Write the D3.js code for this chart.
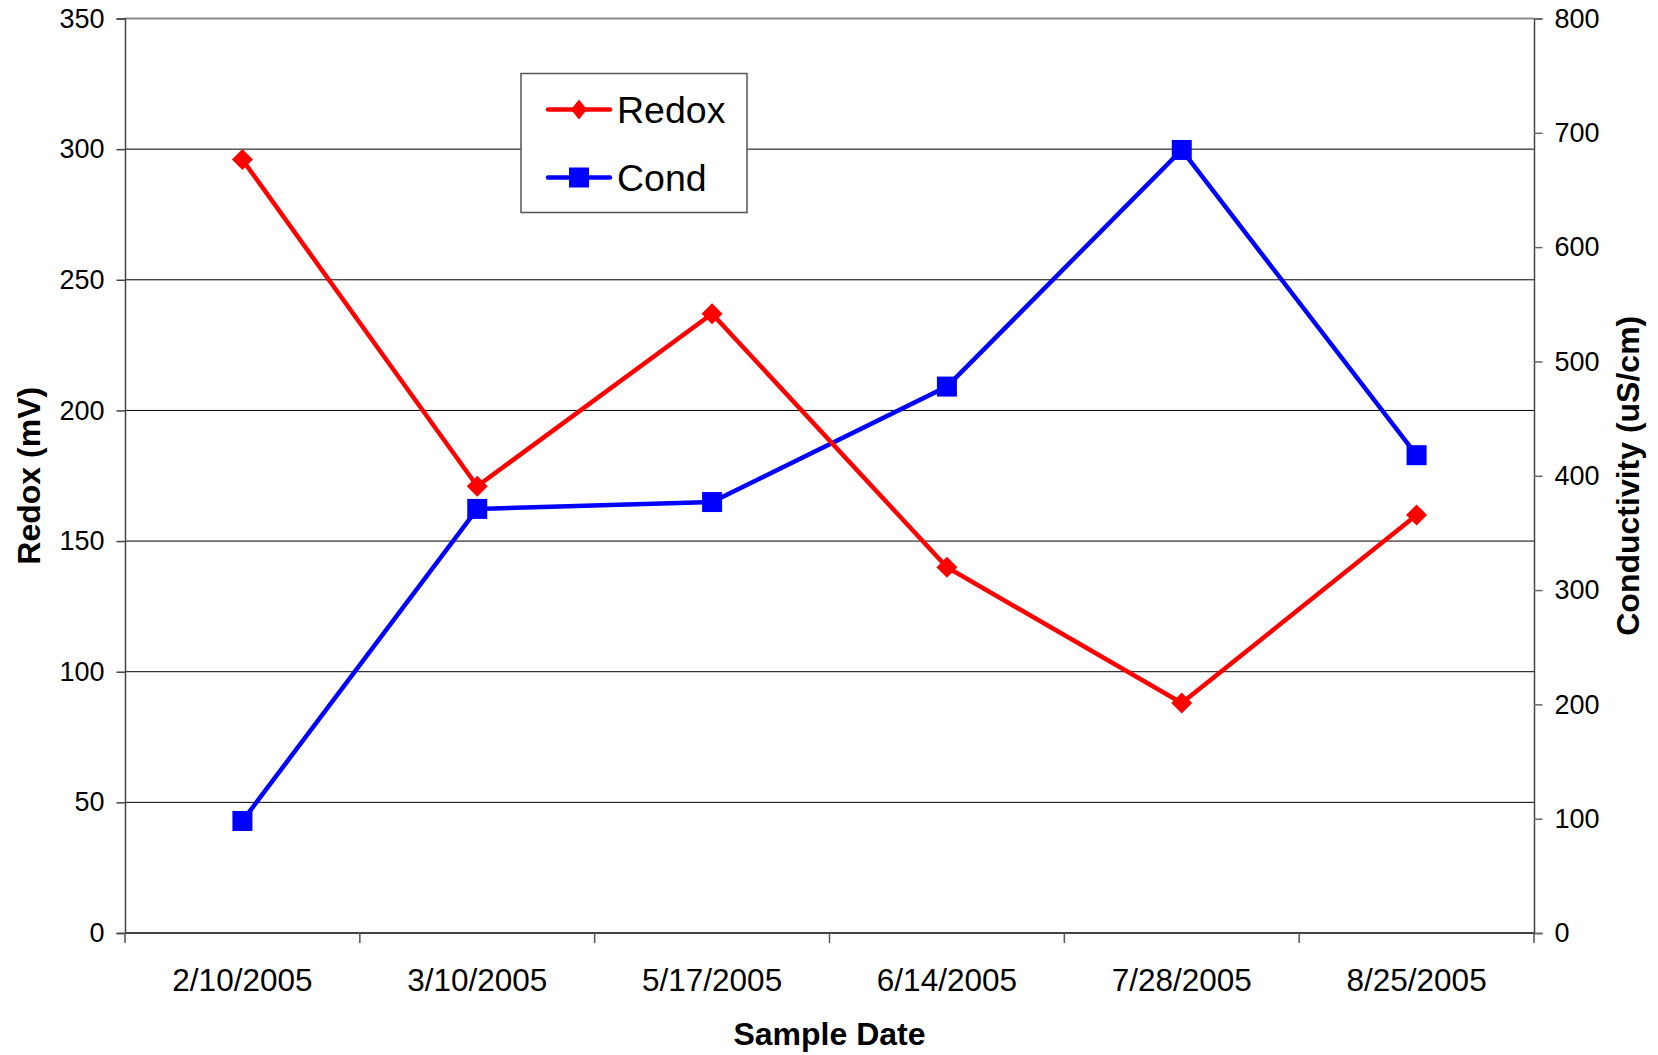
<!DOCTYPE html>
<html>
<head>
<meta charset="utf-8">
<script src="https://cdn.jsdelivr.net/npm/d3@7"></script>
<style>
  body { margin: 0; background: #fff; }
  svg { display: block; font-family: "Liberation Sans", Arial, sans-serif; }
</style>
</head>
<body>
<div id="chart"></div>
<script>
var dates = ["2/10/2005", "3/10/2005", "5/17/2005", "6/14/2005", "7/28/2005", "8/25/2005"];
var redox = [296, 171, 237, 140, 88, 160];
var cond = [98, 371, 377, 478, 685, 418];
var redoxTicks = [0, 50, 100, 150, 200, 250, 300, 350];
var condTicks = [0, 100, 200, 300, 400, 500, 600, 700, 800];

var width = 1658, height = 1055;
var margin = { top: 18.5, right: 124, bottom: 122, left: 125 };
var plotW = width - margin.left - margin.right;
var plotH = height - margin.top - margin.bottom;

var svg = d3.select('#chart').append('svg')
    .attr('width', width)
    .attr('height', height);

var x = d3.scaleBand().domain(dates).range([0, plotW]);
var yL = d3.scaleLinear().domain([0, 350]).range([plotH, 0]);
var yR = d3.scaleLinear().domain([0, 800]).range([plotH, 0]);

var g = svg.append('g')
    .attr('transform', 'translate(' + margin.left + ',' + margin.top + ')');

// gridlines
g.selectAll('.grid')
    .data(redoxTicks.filter(function (d) { return d > 0 && d < 350; }))
    .enter().append('line')
    .attr('class', 'grid')
    .attr('x1', 0).attr('x2', plotW)
    .attr('y1', function (d) { return yL(d); })
    .attr('y2', function (d) { return yL(d); })
    .attr('stroke', '#000')
    .attr('stroke-width', 1);

// top border
g.append('line')
    .attr('x1', 0).attr('x2', plotW)
    .attr('y1', yL(350)).attr('y2', yL(350))
    .attr('stroke', '#888').attr('stroke-width', 2);

// left axis
var axL = g.append('g')
    .call(d3.axisLeft(yL).tickValues(redoxTicks).tickSize(8.5).tickPadding(12));
axL.select('.domain').attr('stroke', '#444').attr('stroke-width', 1.5);
axL.selectAll('.tick line').attr('stroke', '#444').attr('stroke-width', 1.5);
axL.selectAll('.tick text').attr('font-size', 27).attr('fill', '#000')
    .attr('font-family', '"Liberation Sans", Arial, sans-serif');

// right axis
var axR = g.append('g')
    .attr('transform', 'translate(' + plotW + ',0)')
    .call(d3.axisRight(yR).tickValues(condTicks).tickSize(8.5).tickPadding(12));
axR.select('.domain').attr('stroke', '#444').attr('stroke-width', 1.5);
axR.selectAll('.tick line').attr('stroke', '#666').attr('stroke-width', 1.5);
axR.selectAll('.tick text').attr('font-size', 27).attr('fill', '#000')
    .attr('font-family', '"Liberation Sans", Arial, sans-serif');

// bottom axis: labels at category centres, ticks at boundaries
var axB = g.append('g')
    .attr('transform', 'translate(0,' + plotH + ')')
    .call(d3.axisBottom(x).tickSize(0).tickPadding(0));
axB.select('.domain').remove();
axB.selectAll('.tick text')
    .attr('font-size', 31.5).attr('fill', '#000')
    .attr('dy', 0).attr('y', 58)
    .attr('font-family', '"Liberation Sans", Arial, sans-serif');

g.append('line')
    .attr('x1', 0).attr('x2', plotW)
    .attr('y1', plotH).attr('y2', plotH)
    .attr('stroke', '#444').attr('stroke-width', 2);

g.selectAll('.xtick')
    .data(dates.map(function (d) { return x(d); }).concat([plotW]))
    .enter().append('line')
    .attr('class', 'xtick')
    .attr('x1', function (d) { return d; })
    .attr('x2', function (d) { return d; })
    .attr('y1', plotH).attr('y2', plotH + 10)
    .attr('stroke', '#555').attr('stroke-width', 1.5);

// lines
var cx = function (d, i) { return x(dates[i]) + x.bandwidth() / 2; };

var redoxLine = d3.line().x(cx).y(function (d) { return yL(d); });
var condLine = d3.line().x(cx).y(function (d) { return yR(d); });

g.append('path').datum(cond)
    .attr('d', condLine)
    .attr('fill', 'none').attr('stroke', '#0000ff').attr('stroke-width', 4.5);

g.append('path').datum(redox)
    .attr('d', redoxLine)
    .attr('fill', 'none').attr('stroke', '#ff0000').attr('stroke-width', 4.5);

var diamond = 'M0,-10.5L10.5,0L0,10.5L-10.5,0Z';

g.selectAll('.cond-pt')
    .data(cond)
    .enter().append('rect')
    .attr('class', 'cond-pt')
    .attr('x', function (d, i) { return cx(d, i) - 10; })
    .attr('y', function (d) { return yR(d) - 10; })
    .attr('width', 20).attr('height', 20)
    .attr('fill', '#0000ff');

g.selectAll('.redox-pt')
    .data(redox)
    .enter().append('path')
    .attr('class', 'redox-pt')
    .attr('transform', function (d, i) {
        return 'translate(' + cx(d, i) + ',' + yL(d) + ')';
    })
    .attr('d', diamond)
    .attr('fill', '#ff0000');

// legend
var leg = svg.append('g').attr('transform', 'translate(521,73.5)');
leg.append('rect')
    .attr('width', 226).attr('height', 139)
    .attr('fill', '#fff').attr('stroke', '#555').attr('stroke-width', 1.5);

var legItems = [
    { name: 'Redox', color: '#ff0000', y: 36 },
    { name: 'Cond', color: '#0000ff', y: 104 }
];
var li = leg.selectAll('.li').data(legItems).enter().append('g')
    .attr('transform', function (d) { return 'translate(0,' + d.y + ')'; });
li.append('line')
    .attr('x1', 27).attr('x2', 89)
    .attr('stroke', function (d) { return d.color; })
    .attr('stroke-width', 4.5).attr('stroke-linecap', 'round');
li.filter(function (d) { return d.name === 'Redox'; }).append('path')
    .attr('transform', 'translate(58,0)')
    .attr('d', 'M0,-10L8,0L0,10L-8,0Z')
    .attr('fill', '#ff0000');
li.filter(function (d) { return d.name === 'Cond'; }).append('rect')
    .attr('x', 48).attr('y', -10).attr('width', 20).attr('height', 20)
    .attr('fill', '#0000ff');
li.append('text')
    .attr('x', 96).attr('dy', '0.36em')
    .attr('font-size', 37.5)
    .text(function (d) { return d.name; });

// axis titles
svg.append('text')
    .attr('x', margin.left + plotW / 2).attr('y', 1045)
    .attr('text-anchor', 'middle')
    .attr('font-size', 32).attr('font-weight', 'bold')
    .text('Sample Date');

svg.append('text')
    .attr('transform', 'translate(40,' + (margin.top + plotH / 2) + ') rotate(-90)')
    .attr('text-anchor', 'middle')
    .attr('font-size', 32).attr('font-weight', 'bold')
    .text('Redox (mV)');

svg.append('text')
    .attr('transform', 'translate(1639,' + (margin.top + plotH / 2) + ') rotate(-90)')
    .attr('text-anchor', 'middle')
    .attr('font-size', 32).attr('font-weight', 'bold')
    .text('Conductivity (uS/cm)');
</script>
</body>
</html>
